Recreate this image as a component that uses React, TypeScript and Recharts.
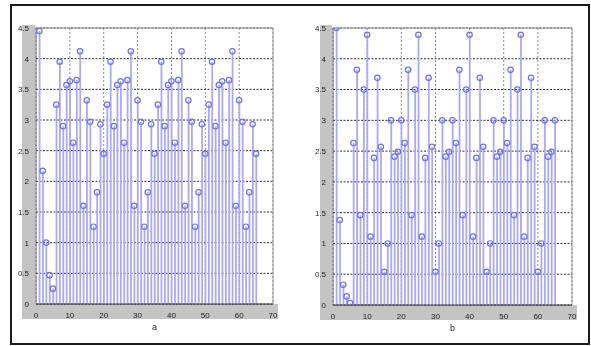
import React from 'react';
import {
  ComposedChart,
  Bar,
  Scatter,
  XAxis,
  YAxis,
  CartesianGrid,
  ReferenceLine,
} from 'recharts';

// ---- Data ----
const valuesA: number[] = [
  4.45, 2.17, 1.0, 0.47, 0.25,
  3.25, 3.95, 2.9, 3.57, 3.63, 2.63, 3.65, 4.12, 1.6, 3.32, 2.97, 1.26, 1.82, 2.93, 2.45,
  3.25, 3.95, 2.9, 3.57, 3.63, 2.63, 3.65, 4.12, 1.6, 3.32, 2.97, 1.26, 1.82, 2.93, 2.45,
  3.25, 3.95, 2.9, 3.57, 3.63, 2.63, 3.65, 4.12, 1.6, 3.32, 2.97, 1.26, 1.82, 2.93, 2.45,
  3.25, 3.95, 2.9, 3.57, 3.63, 2.63, 3.65, 4.12, 1.6, 3.32, 2.97, 1.26, 1.82, 2.93, 2.45,
];

const valuesB: number[] = [
  4.5, 1.38, 0.33, 0.14, 0.03,
  2.63, 3.82, 1.46, 3.5, 4.39, 1.11, 2.39, 3.69, 2.57, 0.54, 1.0, 3.0, 2.41, 2.49, 3.0,
  2.63, 3.82, 1.46, 3.5, 4.39, 1.11, 2.39, 3.69, 2.57, 0.54, 1.0, 3.0, 2.41, 2.49, 3.0,
  2.63, 3.82, 1.46, 3.5, 4.39, 1.11, 2.39, 3.69, 2.57, 0.54, 1.0, 3.0, 2.41, 2.49, 3.0,
  2.63, 3.82, 1.46, 3.5, 4.39, 1.11, 2.39, 3.69, 2.57, 0.54, 1.0, 3.0, 2.41, 2.49, 3.0,
];

const xTicks: number[] = [0, 10, 20, 30, 40, 50, 60, 70];
const yTicks: number[] = [0, 0.5, 1, 1.5, 2, 2.5, 3, 3.5, 4, 4.5];
const labelA = 'a';
const labelB = 'b';

const toRows = (vals: number[]) => vals.map((v, i) => ({ x: i + 1, y: v }));
const dataA = toRows(valuesA);
const dataB = toRows(valuesB);

const STEM = '#a8a8ff';
const MARK = '#7070f2';
const FONT = '"Liberation Sans", Arial, sans-serif';

const Marker = (props: any) => {
  const { cx, cy } = props;
  if (cx == null || cy == null) return null;
  return <circle cx={cx} cy={cy} r={2.7} fill="none" stroke={MARK} strokeWidth={1.2} />;
};

const tickStyle = { fontSize: 8, fill: '#2a2a2a', fontFamily: FONT };

const yFmt = (v: number) => String(v);

type StemProps = {
  data: { x: number; y: number }[];
  width: number;
  height: number;
  margin: { top: number; right: number; bottom: number; left: number };
  label: string;
};

const StemChart = ({ data, width, height, margin, label }: StemProps) => (
  <ComposedChart width={width} height={height} data={data} margin={margin}>
    <CartesianGrid
      horizontal={false}
      stroke="#8a8a8a"
      strokeDasharray="2 2"
      verticalValues={xTicks}
    />
    <XAxis
      type="number"
      dataKey="x"
      domain={[0, 70]}
      ticks={xTicks}
      interval={0}
      height={15}
      tickLine={false}
      axisLine={{ stroke: '#444' }}
      tick={tickStyle}
      tickMargin={2}
      allowDataOverflow
      label={{ value: label, position: 'bottom', offset: 5, style: { fontSize: 9, fill: '#222', fontFamily: FONT } }}
    />
    <YAxis
      type="number"
      domain={[0, 4.5]}
      ticks={yTicks}
      interval={0}
      width={14}
      tickLine={false}
      axisLine={{ stroke: '#666' }}
      tick={tickStyle}
      tickFormatter={yFmt}
      tickMargin={1}
      allowDataOverflow
    />
    <ReferenceLine y={4.5} stroke="#999" />
    <ReferenceLine x={70} stroke="#999" />
    <Bar dataKey="y" barSize={1.8} fill={STEM} isAnimationActive={false} />
    <CartesianGrid
      vertical={false}
      stroke="#2a2a2a"
      strokeDasharray="2 1.5"
      horizontalValues={yTicks}
    />
    <Scatter dataKey="y" shape={<Marker />} isAnimationActive={false} />
  </ComposedChart>
);

const band = (left: number, top: number, width: number, height: number) => (
  <div
    style={{
      position: 'absolute',
      left,
      top,
      width,
      height,
      background: '#c4c4c4',
      mixBlendMode: 'multiply',
      zIndex: 3,
      pointerEvents: 'none',
    }}
  />
);

export default function App() {
  return (
    <div
      style={{
        position: 'absolute',
        left: 0,
        top: 0,
        width: 591,
        height: 346,
        background: '#fff',
        overflow: 'hidden',
      }}
    >
      <div
        style={{
          position: 'absolute',
          left: 10,
          top: 4,
          width: 576,
          height: 337,
          border: '2px solid #1c1c1c',
        }}
      />
      <div style={{ position: 'absolute', left: 0, top: 0, zIndex: 1 }}>
        <StemChart
          data={dataA}
          width={300}
          height={346}
          margin={{ top: 28, right: 27, bottom: 27, left: 22 }}
          label={labelA}
        />
      </div>
      <div style={{ position: 'absolute', left: 300, top: 0, zIndex: 1 }}>
        <StemChart
          data={dataB}
          width={291}
          height={346}
          margin={{ top: 28, right: 19, bottom: 26, left: 19 }}
          label={labelB}
        />
      </div>
      {band(22, 25, 13, 279)}
      {band(22, 304, 256, 15)}
      {band(320, 25, 12, 280)}
      {band(320, 305, 257, 15)}
    </div>
  );
}
